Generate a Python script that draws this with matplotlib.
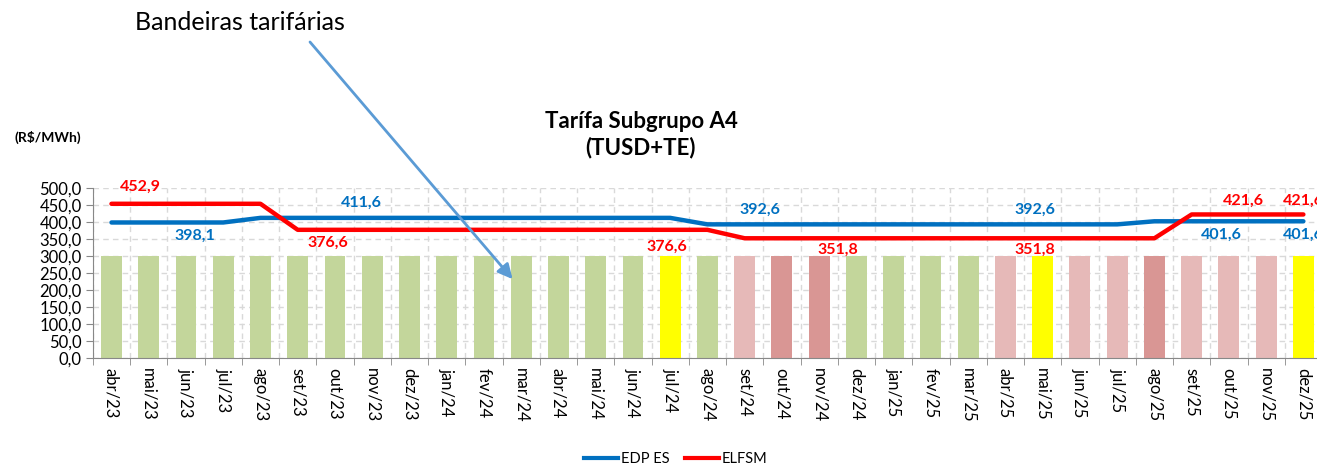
import matplotlib
matplotlib.use("Agg")
import matplotlib.pyplot as plt
from matplotlib.lines import Line2D

plt.rcParams['font.family'] = ['Lato', 'DejaVu Sans']

# Months shown on the category axis
months = ["abr/23", "mai/23", "jun/23", "jul/23", "ago/23", "set/23", "out/23",
          "nov/23", "dez/23", "jan/24", "fev/24", "mar/24", "abr/24", "mai/24",
          "jun/24", "jul/24", "ago/24", "set/24", "out/24", "nov/24", "dez/24",
          "jan/25", "fev/25", "mar/25", "abr/25", "mai/25", "jun/25", "jul/25",
          "ago/25", "set/25", "out/25", "nov/25", "dez/25"]

# Tariff flag in force each month (verde / amarela / vermelha 1 / vermelha 2)
flags = ["verde", "verde", "verde", "verde", "verde", "verde", "verde",
         "verde", "verde", "verde", "verde", "verde", "verde", "verde",
         "verde", "amarela", "verde", "vermelha1", "vermelha2", "vermelha2", "verde",
         "verde", "verde", "verde", "vermelha1", "amarela", "vermelha1", "vermelha1",
         "vermelha2", "vermelha1", "vermelha1", "vermelha1", "amarela"]
flag_level = [300.0] * 33

# A4 tariff (TUSD+TE), R$/MWh
edp_es = [398.1, 398.1, 398.1, 398.1, 411.6, 411.6, 411.6,
          411.6, 411.6, 411.6, 411.6, 411.6, 411.6, 411.6,
          411.6, 411.6, 392.6, 392.6, 392.6, 392.6, 392.6,
          392.6, 392.6, 392.6, 392.6, 392.6, 392.6, 392.6,
          401.6, 401.6, 401.6, 401.6, 401.6]
elfsm = [452.9, 452.9, 452.9, 452.9, 452.9, 376.6, 376.6,
         376.6, 376.6, 376.6, 376.6, 376.6, 376.6, 376.6,
         376.6, 376.6, 376.6, 351.8, 351.8, 351.8, 351.8,
         351.8, 351.8, 351.8, 351.8, 351.8, 351.8, 351.8,
         351.8, 421.6, 421.6, 421.6, 421.6]

flag_colors = {"verde": "#C3D69B", "amarela": "#FFFF00",
               "vermelha1": "#E6B9B8", "vermelha2": "#D99694"}
BLUE = "#0070C0"
RED = "#FF0000"

fig = plt.figure(figsize=(13.17, 4.65), dpi=100)
ax = fig.add_axes([0.0705, 0.2295, 0.9333, 0.3668])

x = list(range(len(months)))
ax.bar(x, flag_level, width=0.56, color=[flag_colors[f] for f in flags], zorder=2)
ax.plot(x, edp_es, color=BLUE, lw=3.2, solid_capstyle="round", zorder=3)
ax.plot(x, elfsm, color=RED, lw=3.2, solid_capstyle="round", zorder=3)

ax.set_xlim(-0.5, len(months) - 0.5)
ax.set_ylim(0, 500)
ax.set_yticks(range(0, 501, 50))
ax.set_yticklabels([f"{v:.1f}".replace(".", ",") for v in range(0, 501, 50)],
                   fontsize=12)
ax.set_xticks(x)
ax.set_xticklabels(months, rotation=270, fontsize=12)
ax.set_xticks([i - 0.5 for i in range(len(months) + 1)], minor=True)
ax.tick_params(axis="x", which="major", length=0, pad=7)
ax.tick_params(axis="x", which="minor", length=5, color="#888888", direction="out")
ax.tick_params(axis="y", length=5, color="#888888", pad=3)

ax.grid(axis="y", color="#D9D9D9", ls=(0, (4, 3)), lw=1, zorder=0)
ax.grid(axis="x", which="minor", color="#D9D9D9", ls=(0, (4, 3)), lw=1, zorder=0)
for side in ("top", "right"):
    ax.spines[side].set_visible(False)
for side in ("left", "bottom"):
    ax.spines[side].set_color("#888888")

# value labels: (series, anchor index, x position, pixel offset)
labels = [
    (elfsm, 0, 0.78, 17), (edp_es, 0, 2.23, -13), (edp_es, 4, 6.7, 15),
    (elfsm, 5, 5.8, -13), (elfsm, 15, 14.9, -17), (edp_es, 16, 17.4, 15),
    (elfsm, 19, 19.5, -12), (edp_es, 24, 24.8, 15), (elfsm, 25, 24.8, -12),
    (elfsm, 30, 30.4, 14), (elfsm, 32, 32.0, 14),
    (edp_es, 29, 29.8, -14), (edp_es, 32, 32.0, -14),
]
for series, i, xpos, dy in labels:
    color = BLUE if series is edp_es else RED
    ax.annotate(f"{series[i]:.1f}".replace(".", ","), (xpos, series[i]),
                xytext=(0, dy), textcoords="offset pixels",
                ha="center", va="center", fontsize=11.5, fontweight="bold",
                color=color, annotation_clip=False, zorder=4)

fig.text(641 / 1317, 1 - 134.5 / 465, "Tarífa Subgrupo A4\n(TUSD+TE)",
         ha="center", va="center", fontsize=16, fontweight="bold", linespacing=1.25)
fig.text(48 / 1317, 1 - 137 / 465, "(R$/MWh)", ha="center", va="center",
         fontsize=10, fontweight="bold")

fig.text(240 / 1317, 1 - 23 / 465, "Bandeiras tarifárias", ha="center",
         va="center", fontsize=18)
ax.annotate("", xy=(10.77, 232), xycoords="data",
            xytext=(310 / 1317, 1 - 42 / 465), textcoords="figure fraction",
            arrowprops=dict(arrowstyle="-|>", color="#5B9BD5", lw=2,
                            mutation_scale=22, shrinkA=0, shrinkB=0),
            zorder=5, annotation_clip=False)

handles = [Line2D([], [], color=BLUE, lw=3), Line2D([], [], color=RED, lw=3)]
fig.legend(handles, ["EDP ES", "ELFSM"], loc="center",
           bbox_to_anchor=(676 / 1317, 1 - 459 / 465), ncol=2, frameon=False,
           fontsize=10.5, handlelength=2.3, handletextpad=0.2, columnspacing=1.1)

fig.savefig("out.png", dpi=100)
